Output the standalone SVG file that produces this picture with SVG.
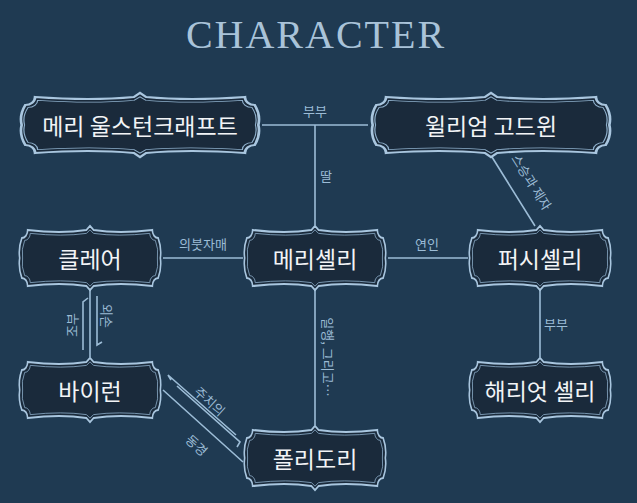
<svg xmlns="http://www.w3.org/2000/svg" xmlns:xlink="http://www.w3.org/1999/xlink" width="637" height="503" viewBox="0 0 637 503">
<style>
.bg{fill:#1f3a52}
.sh{fill:#1a2a3b;stroke:#a9c6df;stroke-width:2.2;vector-effect:non-scaling-stroke}
.in{fill:none;stroke:#8fb0cc;stroke-width:1;vector-effect:non-scaling-stroke}
.nt{font-family:"Noto Sans CJK KR","Noto Sans",sans-serif;font-size:23px;fill:#f2f4f6;text-anchor:middle;dominant-baseline:central}
.ln{stroke:#9cbcd6;stroke-width:1.6;fill:none}
.lb{font-family:"Noto Sans CJK KR",sans-serif;font-size:13px;fill:#9cbcd6;text-anchor:middle;dominant-baseline:central}
</style>
<defs>
<path id="s" d="M -86,-28 Q -40,-24 -5,-28 L 0,-32 L 5,-28 Q 40,-24 86,-28 A 8 8 0 0 0 94,-20 Q 99,-10 97,0 Q 99,10 94,20 A 8 8 0 0 0 86,28 Q 40,24 5,28 L 0,32 L -5,28 Q -40,24 -86,28 A 8 8 0 0 0 -94,20 Q -99,10 -97,0 Q -99,-10 -94,-20 A 8 8 0 0 0 -86,-28 Z"/>
</defs>
<rect class="bg" width="637" height="503"/>
<text x="316" y="48" font-family="Liberation Serif,serif" font-size="40" fill="#a9c3d9" text-anchor="middle" letter-spacing="2">CHARACTER</text>
<g id="connectors">
<path class="ln" d="M262,125 H368 M315,125 V225 M163,258 H243 M388,258 H468 M492,157 L535,226 M540,290 V357 M90,290 V357 M315,290 V425 M163,390 L243,462"/>
<path class="ln" stroke-width="1.2" d="M88,298 L83,302 V350 M97,296 V345 L102,342 M171,380 L168,375 L236,435 M177,386 L240,442 L237,447"/>
<text class="lb" x="315" y="110">부부</text>
<text class="lb" x="326" y="175">딸</text>
<text class="lb" x="203" y="243">의붓자매</text>
<text class="lb" x="427" y="243">연인</text>
<text class="lb" transform="translate(532,182) rotate(58)">스승과 제자</text>
<text class="lb" x="556" y="323">부부</text>
<text class="lb" transform="translate(71,325) rotate(-90)">조부</text>
<text class="lb" transform="translate(107,316) rotate(90)">외손</text>
<text class="lb" transform="translate(328,357) rotate(90)">일행, 그리고…</text>
<text class="lb" transform="translate(210,401) rotate(42)">주치의</text>
<text class="lb" transform="translate(197,445) rotate(42)">동경</text>
</g>
<g id="n1" transform="translate(140,125)"><use href="#s" class="sh" transform="scale(1.22,1)"/><use href="#s" class="in" transform="scale(1.19,0.88)"/><text class="nt">메리 울스턴크래프트</text></g>
<g id="n2" transform="translate(491,125)"><use href="#s" class="sh" transform="scale(1.22,1)"/><use href="#s" class="in" transform="scale(1.19,0.88)"/><text class="nt">윌리엄 고드윈</text></g>
<g id="n3" transform="translate(90,258)"><use href="#s" class="sh" transform="scale(0.725,1)"/><use href="#s" class="in" transform="scale(0.695,0.88)"/><text class="nt">클레어</text></g>
<g id="n4" transform="translate(315,258)"><use href="#s" class="sh" transform="scale(0.725,1)"/><use href="#s" class="in" transform="scale(0.695,0.88)"/><text class="nt">메리셸리</text></g>
<g id="n5" transform="translate(540,258)"><use href="#s" class="sh" transform="scale(0.725,1)"/><use href="#s" class="in" transform="scale(0.695,0.88)"/><text class="nt">퍼시셸리</text></g>
<g id="n6" transform="translate(90,390)"><use href="#s" class="sh" transform="scale(0.725,1)"/><use href="#s" class="in" transform="scale(0.695,0.88)"/><text class="nt">바이런</text></g>
<g id="n7" transform="translate(540,390)"><use href="#s" class="sh" transform="scale(0.725,1)"/><use href="#s" class="in" transform="scale(0.695,0.88)"/><text class="nt">해리엇 셸리</text></g>
<g id="n8" transform="translate(315,458)"><use href="#s" class="sh" transform="scale(0.725,1)"/><use href="#s" class="in" transform="scale(0.695,0.88)"/><text class="nt">폴리도리</text></g>
</svg>
